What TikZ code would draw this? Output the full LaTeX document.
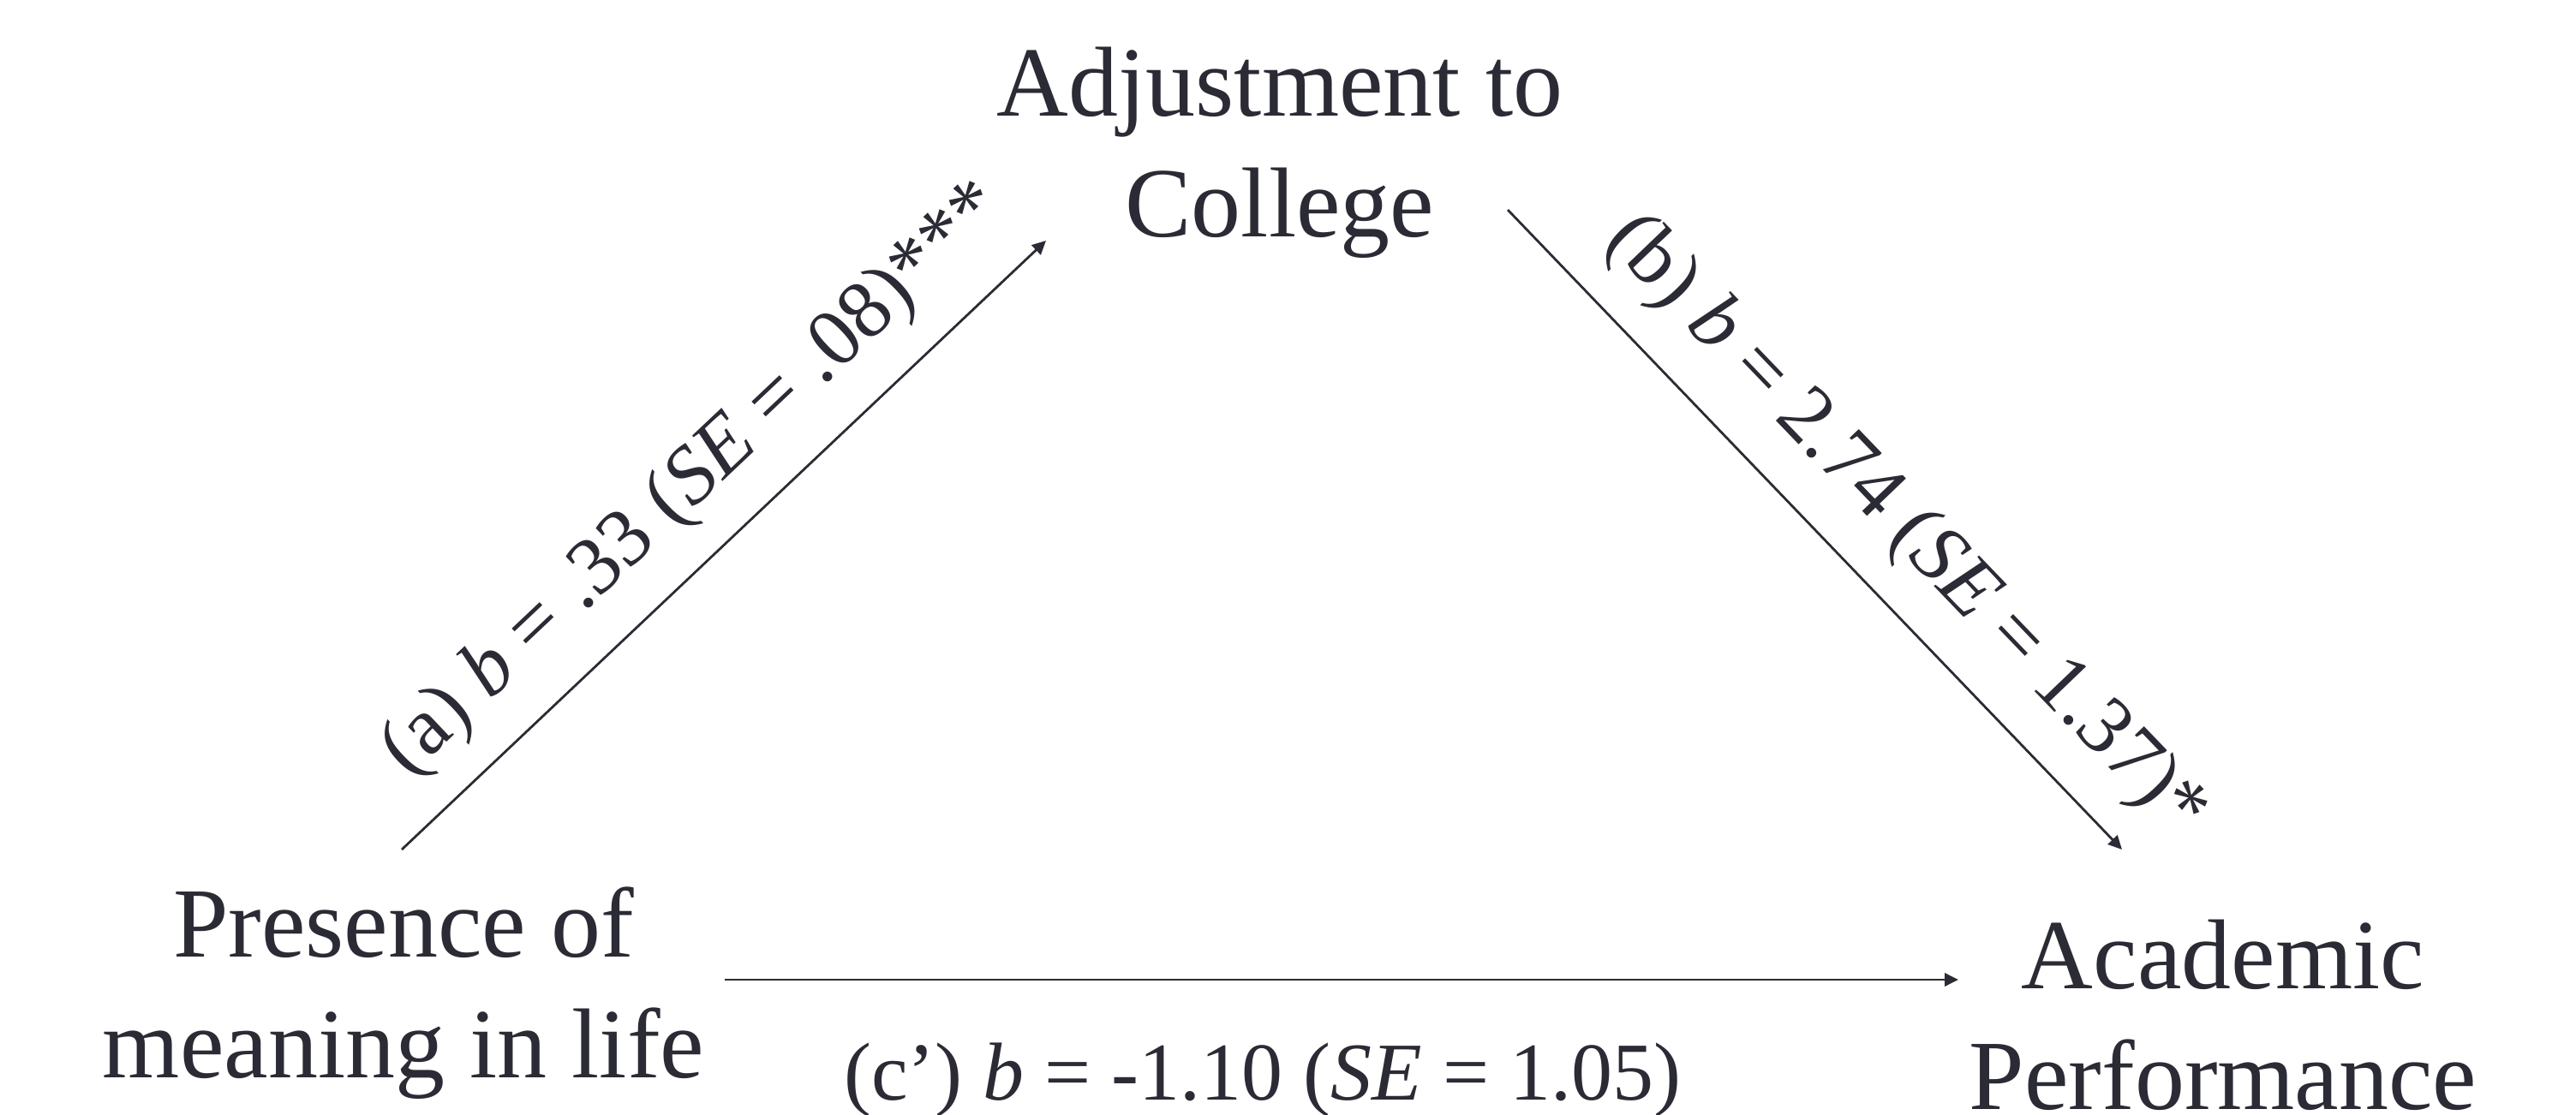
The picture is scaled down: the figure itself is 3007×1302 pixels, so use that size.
\documentclass[tikz,border=0pt]{standalone}
\usepackage{fontspec}
\setmainfont{Liberation Serif}
\usetikzlibrary{arrows.meta,calc}
\definecolor{ink}{RGB}{43,43,53}
\begin{document}
\begin{tikzpicture}[x=0.25pt,y=-0.25pt,
  var/.style={anchor=north, inner sep=0pt, outer sep=0pt, align=center, text=ink, font=\fontsize{29}{35.25}\selectfont},
  conn/.style={draw=ink, line width=0.7pt, -{Triangle[length=4pt,width=3.8pt]}},
  lab/.style={text=ink, font=\fontsize{24}{28}\selectfont, inner sep=0pt},
  slopelab/.style={lab, sloped, anchor=south, text depth=0pt, outer sep=13.75pt}
]
\useasboundingbox (0,0) rectangle (3007,1302);
\node[var] (adj) at (1494,55) {Adjustment to\\College};
\node[var] (pres) at (471,1036) {Presence of\\meaning in life};
\node[var] (acad) at (2595,1074) {Academic\\Performance};

\coordinate (aS) at ($(pres.north)+(-2,-44)$);
\coordinate (aE) at ($(adj.north)+(-273,226)$);
\coordinate (bS) at ($(adj.north)+(266,190)$);
\coordinate (bE) at ($(acad.north)+(-118,-82)$);
\coordinate (cS) at ($(pres.north)+(375,108)$);
\coordinate (cE) at ($(acad.north)+(-309,70)$);

\draw[conn] (aS) -- node[slopelab, pos=0.526] (la) {(a) \textit{b} = .33 (\textit{SE} = .08)***} (aE);
\draw[conn] (bS) -- node[slopelab, pos=0.568] (lb) {(b) \textit{b} = 2.74 (\textit{SE} = 1.37)*} (bE);
\draw[conn] (cS) -- node[lab, pos=0.436, anchor=base, yshift=-35pt] (lc) {(c’) \textit{b} = -1.10 (\textit{SE} = 1.05)} (cE);
\end{tikzpicture}
\end{document}
